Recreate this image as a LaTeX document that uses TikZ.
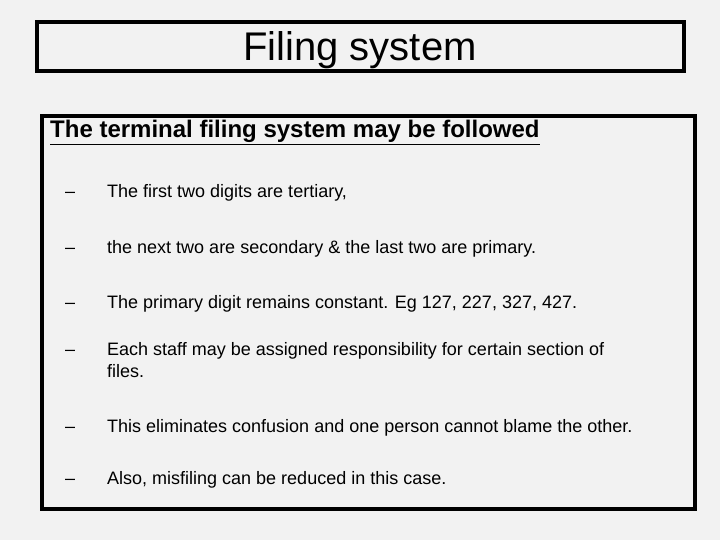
\documentclass[tikz,border=0pt]{standalone}
\usepackage{fontspec}
\setmainfont{Liberation Sans}
\definecolor{bg}{HTML}{F2F2F2}
\begin{document}
\begin{tikzpicture}[x=1pt,y=-1pt,
  frame/.style={draw=black,line width=4pt},
  bul/.style={anchor=base west,font=\fontsize{18}{22}\selectfont,inner sep=0pt},
  dsh/.style={anchor=base west,font=\fontsize{18}{22}\selectfont,inner sep=0pt}]
\fill[bg] (0,0) rectangle (720,540);
\useasboundingbox (0,0) rectangle (720,540);
\draw[frame] (37,22) rectangle (684,71);
\node[anchor=base,font=\fontsize{40}{46}\selectfont,inner sep=0pt] (title) at (360,61) {\underline{Filing system}};
\draw[frame] (42,116) rectangle (695,509);
\node[anchor=base west,font=\bfseries\fontsize{24}{28}\selectfont,inner sep=0pt] (head) at (50,138) {\underline{The terminal filing system may be followed}};
\foreach \y/\t [count=\i] in {198/{The first two digits are tertiary,},
  253/{the next two are secondary \& the last two are primary.},
  308/{The primary digit remains constant. Eg 127, 227, 327, 427.},
  355/{Each staff may be assigned responsibility for certain section of},
  432/{This eliminates confusion and one person cannot blame the other.},
  484/{Also, misfiling can be reduced in this case.}}{
  \node[dsh] (d\i) at (65,\y) {–};
  \node[bul] (b\i) at (107,\y) {\t};
}
\node[bul] (b4b) at (107,377) {files.};
\end{tikzpicture}
\end{document}
